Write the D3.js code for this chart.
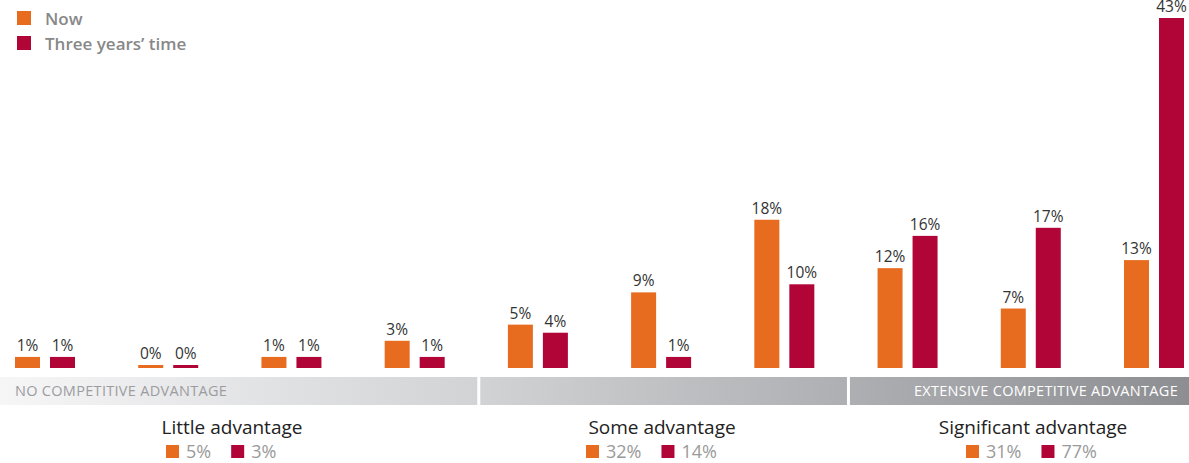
<!DOCTYPE html>
<html>
<head>
<meta charset="utf-8">
<script src="https://cdn.jsdelivr.net/npm/d3@7"></script>
<style>
  body { margin: 0; background: #fff; }
  svg { display: block; font-family: "Open Sans", sans-serif; }
  .val { font-size: 15.5px; fill: #333; text-anchor: middle; }
  .band-lbl { font-size: 14.5px; letter-spacing: 0.3px; font-weight: 500; }
  .cat { font-size: 19px; fill: #222; text-anchor: middle; font-weight: 500; }
  .sub { font-size: 18px; fill: #9a9a9a; }
  .leg { font-size: 17px; fill: #888; font-weight: 600; }
</style>
</head>
<body>
<svg id="chart" width="1189" height="463"></svg>
<script>
const svg = d3.select("#chart");
const W = 1189, H = 463;

// 10-point scale, two series
const points = ["1","2","3","4","5","6","7","8","9","10"];
const nowVals = [1, 0, 1, 3, 5, 9, 18, 12, 7, 13];
const futureVals = [1, 0, 1, 1, 4, 1, 10, 16, 17, 43];
const seriesNames = ["Now", "Three years’ time"];
const colors = ["#e86c1f", "#b10538"];

// grouped summaries
const groupTitles = ["Little advantage", "Some advantage", "Significant advantage"];
const groupNow = [5, 32, 31];
const groupFuture = [3, 14, 77];
const groupSpans = [[0, 3], [4, 6], [7, 9]];
const bandLabels = ["NO COMPETITIVE ADVANTAGE", "", "EXTENSIVE COMPETITIVE ADVANTAGE"];

const base = 368;
const x = d3.scalePoint().domain(points).range([15, 1124]);
const xs = d3.scaleBand().domain([0, 1]).range([0, 60]).paddingInner(2 / 7).paddingOuter(0);
const y = d3.scaleLinear().domain([0, 43]).range([base - 3, 18]);

// bars + value labels
points.forEach((p, i) => {
  [nowVals[i], futureVals[i]].forEach((v, s) => {
    const bx = x(p) + xs(s);
    svg.append("rect")
      .attr("x", bx).attr("y", y(v))
      .attr("width", xs.bandwidth()).attr("height", base - y(v))
      .attr("fill", colors[s]);
    svg.append("text").attr("class", "val")
      .attr("x", bx + xs.bandwidth() / 2).attr("y", y(v) - 6)
      .text(v + "%");
  });
});

// gradient band
const grad = svg.append("defs").append("linearGradient")
  .attr("id", "bandGrad").attr("gradientUnits", "userSpaceOnUse")
  .attr("x1", 0).attr("x2", W).attr("y1", 0).attr("y2", 0);
grad.append("stop").attr("offset", 0).attr("stop-color", "#f6f6f7");
grad.append("stop").attr("offset", 0.4).attr("stop-color", "#d2d3d5");
grad.append("stop").attr("offset", 1).attr("stop-color", "#8d8e92");

const bandTop = 377, bandH = 28;
const bounds = [0];
for (let g = 0; g < groupSpans.length - 1; g++) {
  const endPrev = x(points[groupSpans[g][1]]) + xs.range()[1];
  const startNext = x(points[groupSpans[g + 1][0]]);
  bounds.push((endPrev + startNext) / 2 + 2.5);
}
bounds.push(W);

groupSpans.forEach((sp, g) => {
  const x0 = g === 0 ? bounds[g] : bounds[g] + 1.5;
  const x1 = g === groupSpans.length - 1 ? bounds[g + 1] : bounds[g + 1] - 1.5;
  svg.append("rect")
    .attr("x", x0).attr("y", bandTop)
    .attr("width", x1 - x0).attr("height", bandH)
    .attr("fill", "url(#bandGrad)");
});

svg.append("text").attr("class", "band-lbl")
  .attr("x", 15).attr("y", 396).attr("fill", "#9c9c9e")
  .text(bandLabels[0]);
svg.append("text").attr("class", "band-lbl")
  .attr("x", 1178).attr("y", 396).attr("fill", "#fff")
  .attr("text-anchor", "end")
  .text(bandLabels[2]);

// group titles + summary legend
const titleX = [232, 662, 1033];
const subX = [166, 586, 966];
groupTitles.forEach((t, g) => {
  svg.append("text").attr("class", "cat")
    .attr("x", titleX[g]).attr("y", 434).text(t);
  let cx = subX[g];
  [groupNow[g], groupFuture[g]].forEach((v, s) => {
    svg.append("rect").attr("x", cx).attr("y", 445)
      .attr("width", 13).attr("height", 13).attr("fill", colors[s]);
    const tx = svg.append("text").attr("class", "sub")
      .attr("x", cx + 20).attr("y", 458).text(v + "%");
    cx += 20 + tx.node().getComputedTextLength() + 20;
  });
});

// top legend
seriesNames.forEach((n, s) => {
  svg.append("rect").attr("x", 17).attr("y", 11 + s * 25)
    .attr("width", 14).attr("height", 14).attr("fill", colors[s]);
  svg.append("text").attr("class", "leg")
    .attr("x", 45).attr("y", 25 + s * 25).text(n);
});
</script>
</body>
</html>
